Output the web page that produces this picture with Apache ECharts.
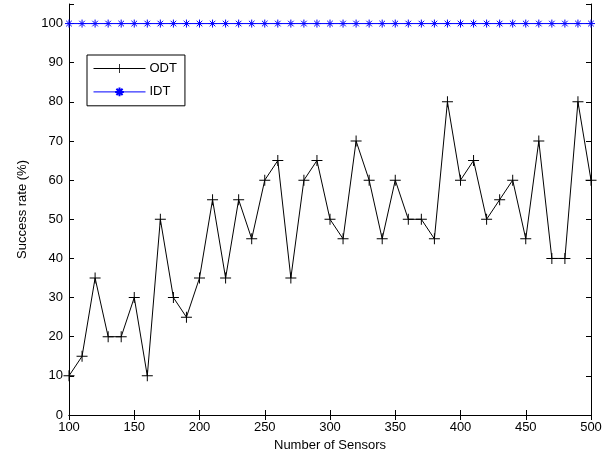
<!DOCTYPE html>
<html><head><meta charset="utf-8">
<script src="https://cdn.jsdelivr.net/npm/echarts@6/dist/echarts.min.js"></script>
<style>html,body{margin:0;padding:0;background:#fff}#c{width:616px;height:461px}</style>
</head><body><div id="c"></div>
<script>
var sensors = [100,110,120,130,140,150,160,170,180,190,200,210,220,230,240,250,260,270,280,290,300,310,320,330,340,350,360,370,380,390,400,410,420,430,440,450,460,470,480,490,500];
var odt = [10,15,35,20,20,30,10,50,30,25,35,55,35,55,45,60,65,35,60,65,50,45,70,60,45,60,50,50,45,80,60,65,50,55,60,45,70,40,40,80,60];
var idt = [100,100,100,100,100,100,100,100,100,100,100,100,100,100,100,100,100,100,100,100,100,100,100,100,100,100,100,100,100,100,100,100,100,100,100,100,100,100,100,100,100];
var xTicks = [100,150,200,250,300,350,400,450,500];
var yTicks = [0,10,20,30,40,50,60,70,80,90,100];

var font = 'Liberation Sans, Arial, Helvetica, sans-serif';
var plus = 'path://M-0.09,-1H0.09V-0.09H1V0.09H0.09V1H-0.09V0.09H-1V-0.09H-0.09Z';
var star = 'path://M0,-1L0,1M-1,0L1,0M-0.7,-0.7L0.7,0.7M-0.7,0.7L0.7,-0.7';
function pair(xs, ys){ return xs.map(function(x,i){return [x, ys[i]];}); }
var axisLine = {show:true, lineStyle:{color:'#000', width:1}};
var tick = {show:true, inside:true, length:5, lineStyle:{color:'#000'}};
var chart = echarts.init(document.getElementById('c'));
chart.setOption({
  animation:false,
  backgroundColor:'#fff',
  grid:{left:69, right:25, top:4, bottom:46, containLabel:false},
  legend:{
    left:87, top:55, orient:'vertical', itemGap:10, itemWidth:52, itemHeight:11,
    backgroundColor:'#fff', borderColor:'#000', borderWidth:1, padding:[7,8,7,6],
    lineStyle:{width:1},
    textStyle:{fontFamily:font, fontSize:13, color:'#000', padding:[0,0,0,-1]},
    data:['ODT','IDT']
  },
  xAxis:[{
    type:'value', min:100, max:500, interval:50, position:'bottom',
    name:'Number of Sensors', nameLocation:'middle', nameGap:22,
    nameTextStyle:{fontFamily:font, fontSize:13, color:'#000'},
    axisLine:axisLine, axisTick:tick, splitLine:{show:false},
    axisLabel:{fontFamily:font, fontSize:13, color:'#000', margin:6,
      customValues: xTicks}
  },{
    type:'value', min:100, max:500, interval:50, position:'top',
    axisLine:axisLine, axisTick:tick, splitLine:{show:false}, axisLabel:{show:false}
  }],
  yAxis:[{
    type:'value', min:0, max:105, interval:10, position:'left',
    name:'Success rate (%)', nameLocation:'middle', nameGap:40,
    nameTextStyle:{fontFamily:font, fontSize:13, color:'#000'},
    axisLine:axisLine, axisTick:tick, splitLine:{show:false},
    axisLabel:{fontFamily:font, fontSize:13, color:'#000', margin:6,
      formatter:function(v){ return yTicks.indexOf(v) >= 0 ? String(v) : ''; }}
  },{
    type:'value', min:0, max:105, interval:10, position:'right',
    axisLine:axisLine, axisTick:tick, splitLine:{show:false}, axisLabel:{show:false}
  }],
  series:[{
    name:'ODT', type:'line', data:pair(sensors, odt),
    symbol:plus, symbolSize:11, showAllSymbol:true,
    lineStyle:{color:'#000', width:1}, itemStyle:{color:'#000'}
  },{
    name:'IDT', type:'line', data:pair(sensors, idt),
    symbol:star, symbolSize:8, showAllSymbol:true,
    lineStyle:{color:'#0000ff', width:1},
    itemStyle:{color:'none', borderColor:'#0000ff', borderWidth:1}
  }]
});
</script></body></html>
